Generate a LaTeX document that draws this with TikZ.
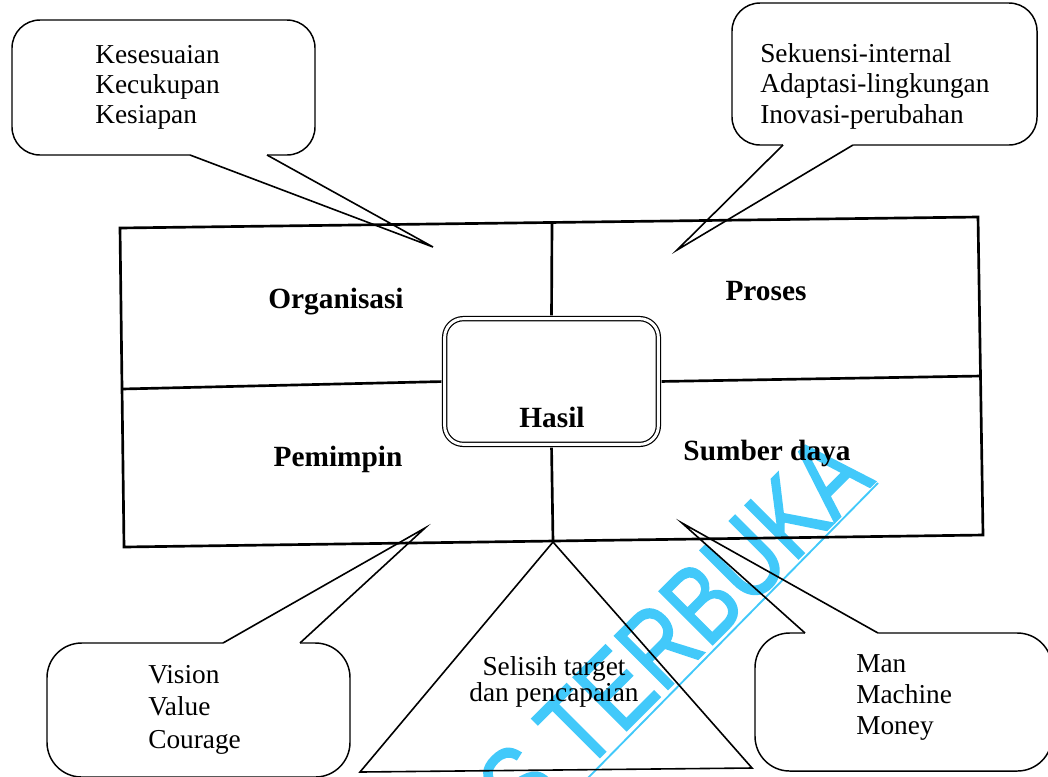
\documentclass[tikz,border=0pt]{standalone}
\usepackage{fontspec}
\setmainfont{Liberation Serif}
\newfontfamily\markfont[FakeBold=1.6]{Liberation Sans}
\usetikzlibrary{calc}
\definecolor{markcyan}{RGB}{66,201,250}
% stacked lines of text whose baseline is that of the first line
\newcommand{\leftlines}[1]{\begin{tabular}[t]{@{}l@{}}#1\end{tabular}}
\newcommand{\midlines}[1]{\begin{tabular}[t]{@{}c@{}}#1\end{tabular}}

\begin{document}
\begin{tikzpicture}[x=0.75pt,y=-0.75pt,
  frame/.style={line width=2pt, line join=miter},
  bubble/.style={draw, fill=white, line width=1.1pt, rectangle, inner sep=0pt, outer sep=0pt},
  tail/.style={line width=1.2pt, line join=miter},
  tailfill/.style={fill=white},
  quad/.style={anchor=base, inner sep=0pt, font=\fontsize{22}{24}\selectfont\bfseries},
  note/.style={anchor=base west, inner sep=0pt},
]
\useasboundingbox (0,0) rectangle (1048,776);
\clip (0,0) rectangle (1048,776);

% ---------- callout bubbles ----------
\node[bubble, rounded corners=21pt, minimum width=227.25pt, minimum height=101.25pt] (bubOrg) at (163.5,87.5) {};
\node[bubble, rounded corners=21pt, minimum width=228.75pt, minimum height=106.5pt] (bubPro) at (884.5,74) {};
\node[bubble, rounded corners=26pt, minimum width=227.25pt, minimum height=100.5pt] (bubLead) at (198.5,710) {};
\node[bubble, rounded corners=26pt, minimum width=222.75pt, minimum height=103.5pt] (bubRes) at (903.5,702) {};

% tail base points and tips
\coordinate (orgA) at (190,155);  \coordinate (orgB) at (267,155);  \coordinate (orgT) at (433,247);
\coordinate (proA) at (783,145);  \coordinate (proB) at (853,145);  \coordinate (proT) at (677,250);
\coordinate (leadA) at (223,643); \coordinate (leadB) at (300,643); \coordinate (leadT) at (425,528);
\coordinate (resA) at (805,633);  \coordinate (resB) at (878,633);  \coordinate (resT) at (682,523);

% open the bubble outline where each tail leaves it
\fill[tailfill] ($(orgA)+(0,-3)$) -- (orgA) -- (orgT) -- (orgB) -- ($(orgB)+(0,-3)$) -- cycle;
\fill[tailfill] ($(proA)+(0,-3)$) -- (proA) -- (proT) -- (proB) -- ($(proB)+(0,-3)$) -- cycle;
\fill[tailfill] ($(leadA)+(0,3)$) -- (leadA) -- (leadT) -- (leadB) -- ($(leadB)+(0,3)$) -- cycle;
\fill[tailfill] ($(resA)+(0,3)$) -- (resA) -- (resT) -- (resB) -- ($(resB)+(0,3)$) -- cycle;

% ---------- watermark ----------
\node[rotate=45, anchor=base east, inner sep=0pt, text=markcyan,
      font=\markfont\fontsize{82}{82}\selectfont] (mark) at (876,481)
      {\scalebox{0.8}[1]{S TERBUKA}};
\coordinate (markA) at (583,783);
\coordinate (markB) at (878,483);
\draw[markcyan, line width=1.4pt] (markA) -- (markB);

% ---------- tails ----------
\draw[tail] (orgA) -- (orgT) -- (orgB);
\draw[tail] (proA) -- (proT) -- (proB);
\draw[tail] (leadA) -- (leadT) -- (leadB);
\draw[tail] (resA) -- (resT) -- (resB);

% ---------- four-field frame ----------
\coordinate (fTL) at (120,228);
\coordinate (fTR) at (978,217);
\coordinate (fBR) at (983,535);
\coordinate (fBL) at (124,547);
\draw[frame] (fTL) -- (fTR) -- (fBR) -- (fBL) -- cycle;

\node[draw, double, double distance=2.2pt, line width=0.9pt, rounded corners=14pt,
      minimum width=160.3pt, minimum height=94.3pt, inner sep=0pt] (hasil) at (551.5,381.5) {};

\coordinate (ml) at (122,389);
\coordinate (mr) at (981,376);
\coordinate (mt) at (552,222.5);
\coordinate (apex) at (553,542);
\draw[frame, shorten >=2pt] (ml) -- (hasil.west);
\draw[frame, shorten <=2pt] (hasil.east) -- (mr);
\draw[frame, shorten >=2pt] (mt) -- (hasil.north);
\draw[frame, shorten <=2pt] (hasil.south) -- (apex);

% ---------- triangle ----------
\coordinate (triL) at (360,772);
\coordinate (triR) at (752,768);
\draw[tail] (apex) -- (triL) -- (triR) -- cycle;

% ---------- labels ----------
\node[quad] (lblOrg) at (336,308) {Organisasi};
\node[quad] (lblPro) at (766,300) {Proses};
\node[quad] (lblLead) at (338,466) {Pemimpin};
\node[quad] (lblRes) at (767,460) {Sumber daya};
\node[quad] (lblHasil) at (552,427) {Hasil};

\node[note, font=\fontsize{20.5}{22.5}\selectfont] (txtOrg) at (95,63)
  {\leftlines{Kesesuaian\\Kecukupan\\Kesiapan}};
\node[note, font=\fontsize{20.5}{22.9}\selectfont] (txtPro) at (760,62)
  {\leftlines{Sekuensi-internal\\Adaptasi-lingkungan\\Inovasi-perubahan}};
\node[note, font=\fontsize{20.5}{24.4}\selectfont] (txtLead) at (148,683)
  {\leftlines{Vision\\Value\\Courage}};
\node[note, font=\fontsize{20.5}{23.6}\selectfont] (txtRes) at (856,672)
  {\leftlines{Man\\Machine\\Money}};
\node[anchor=base, inner sep=0pt, font=\fontsize{20.5}{18.75}\selectfont] (txtGap) at (554,675)
  {\midlines{Selisih target\\dan pencapaian}};
\end{tikzpicture}
\end{document}
